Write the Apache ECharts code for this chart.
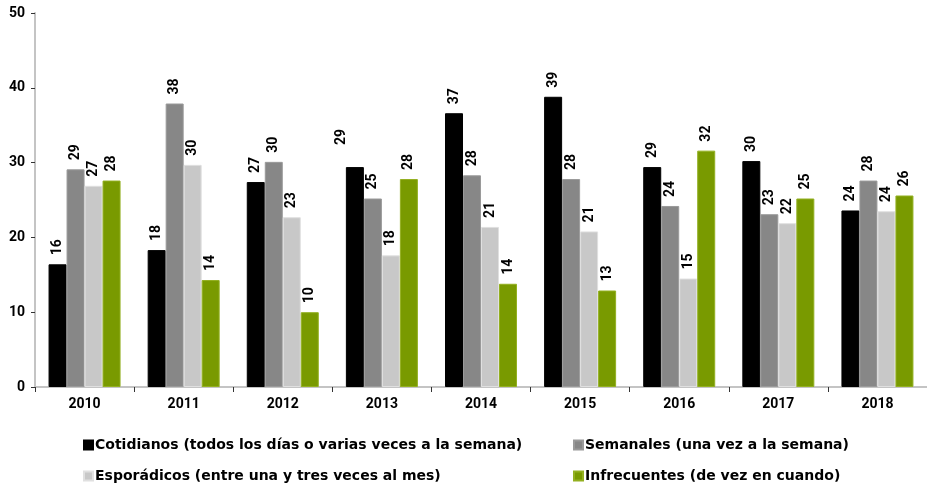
<!DOCTYPE html>
<html>
<head>
<meta charset="utf-8">
<script src="https://cdn.jsdelivr.net/npm/echarts@6/dist/echarts.min.js"></script>
<style>
  html, body { margin: 0; padding: 0; background: #fff; }
  #chart { width: 927px; height: 488px; }
</style>
</head>
<body>
<div id="chart"></div>
<script>
var years = ['2010', '2011', '2012', '2013', '2014', '2015', '2016', '2017', '2018'];
var seriesNames = [
  'Cotidianos (todos los días o varias veces a la semana)',
  'Semanales (una vez a la semana)',
  'Esporádicos (entre una y tres veces al mes)',
  'Infrecuentes (de vez en cuando)'
];
var cotidianos = [16.4, 18.3, 27.4, 29.4, 36.6, 38.8, 29.4, 30.2, 23.6];
var semanales = [29.1, 37.9, 30.1, 25.2, 28.3, 27.8, 24.2, 23.1, 27.6];
var esporadicos = [26.9, 29.7, 22.7, 17.6, 21.4, 20.8, 14.5, 21.9, 23.5];
var infrecuentes = [27.6, 14.3, 10.0, 27.8, 13.8, 12.9, 31.6, 25.2, 25.6];
var yTicks = [0, 10, 20, 30, 40, 50];

var colors = ['#000000', '#878787', '#c8c8c8', '#799a00'];
var borders = ['#000000', '#9a9a9a', '#e0e0e0', '#93b020'];
var font = 'Roboto, "DejaVu Sans", sans-serif';
var legendFont = '"DejaVu Sans", Roboto, sans-serif';

var myChart = echarts.init(document.getElementById('chart'));

function makeSeries(idx, values) {
  return {
    type: 'bar',
    name: seriesNames[idx],
    data: values.map(function (v, i) {
      // la etiqueta de 2013 (cotidianos) va desplazada en el original
      if (idx === 0 && i === 3) {
        return { value: v, label: { offset: [13, -13] } };
      }
      return v;
    }),
    barWidth: 18,
    barGap: '0%',
    itemStyle: {
      color: colors[idx],
      borderColor: borders[idx],
      borderWidth: 1
    },
    label: {
      show: true,
      position: 'top',
      rotate: 90,
      align: 'left',
      verticalAlign: 'middle',
      distance: 9,
      formatter: function (p) { return Math.round(p.value); },
      fontFamily: font,
      fontWeight: 'bold',
      fontSize: 14,
      color: '#000'
    }
  };
}

// una leyenda por serie, en dos filas y dos columnas
var legendPos = [[78, 433], [568, 433], [78, 464], [568, 464]];
var legends = seriesNames.map(function (name, i) {
  return {
    left: legendPos[i][0],
    top: legendPos[i][1],
    itemWidth: 9,
    itemHeight: 9,
    icon: 'rect',
    data: [name],
    textStyle: { fontFamily: legendFont, fontWeight: 'bold', fontSize: 14, color: '#000', padding: [0, 0, 0, -3] }
  };
});

var option = {
  animation: false,
  color: colors,
  grid: {
    left: 35,
    top: 13,
    width: 896,
    height: 374
  },
  legend: legends,
  xAxis: {
    type: 'category',
    data: years,
    axisLine: { lineStyle: { color: '#c4c4c4', width: 2 } },
    axisTick: { show: true, length: 5, lineStyle: { color: '#333' } },
    axisLabel: {
      margin: 10,
      fontFamily: font,
      fontWeight: 'bold',
      fontSize: 14,
      color: '#000'
    },
    splitLine: { show: false }
  },
  yAxis: {
    type: 'value',
    min: yTicks[0],
    max: yTicks[yTicks.length - 1],
    interval: 10,
    axisLine: { show: true, lineStyle: { color: '#c4c4c4', width: 2 } },
    axisTick: { show: true, length: 4, lineStyle: { color: '#333' } },
    axisLabel: {
      margin: 10,
      fontFamily: font,
      fontWeight: 'bold',
      fontSize: 14,
      color: '#000'
    },
    splitLine: { show: false }
  },
  series: [
    makeSeries(0, cotidianos),
    makeSeries(1, semanales),
    makeSeries(2, esporadicos),
    makeSeries(3, infrecuentes)
  ]
};

myChart.setOption(option);
</script>
</body>
</html>
